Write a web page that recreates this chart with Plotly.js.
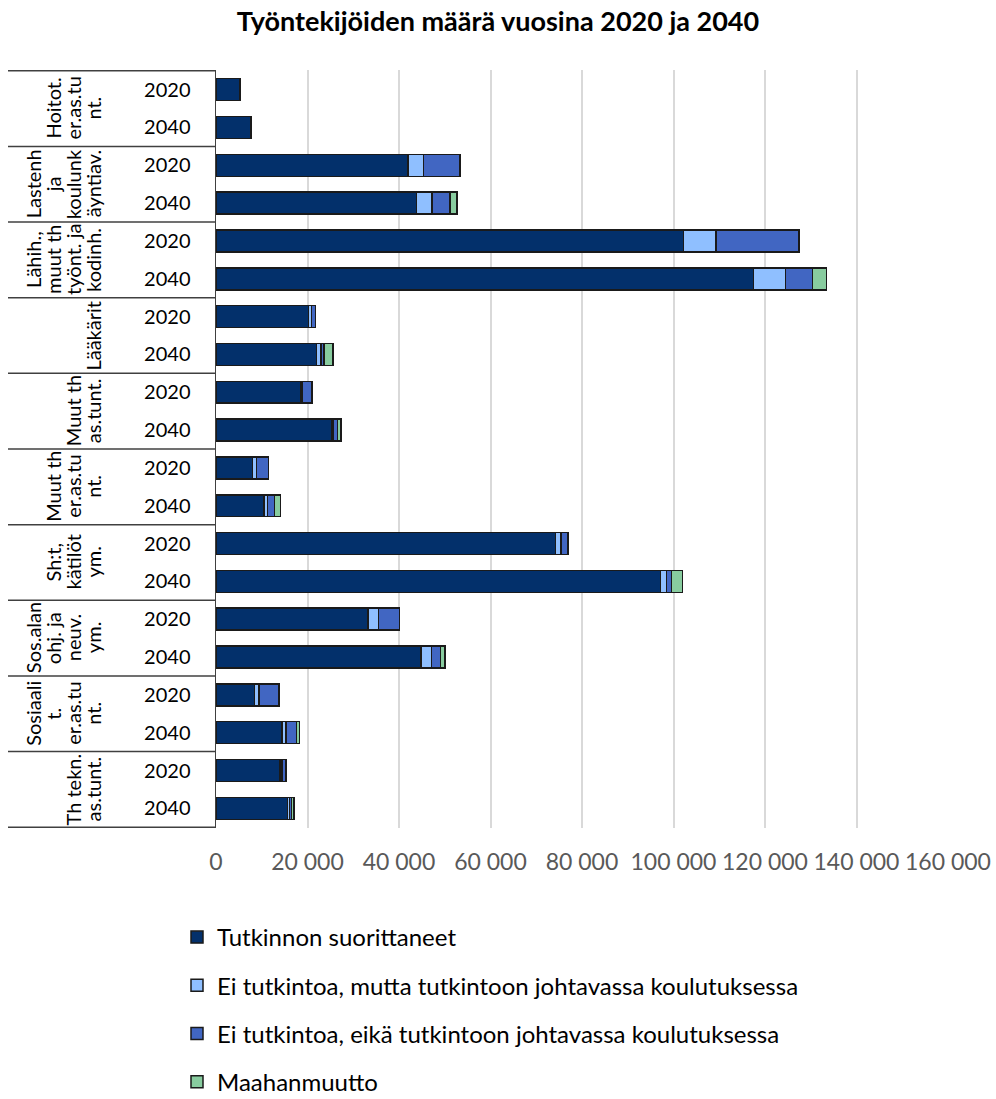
<!DOCTYPE html>
<html>
<head>
<meta charset="utf-8">
<script src="https://cdn.plot.ly/plotly-3.0.1.min.js"></script>
<style>
  html, body { margin: 0; padding: 0; background: #fff; }
  #chart { width: 996px; height: 1099px; }
</style>
</head>
<body>
<div id="chart"></div>
<script>
// Occupational groups, each label split into the lines it is drawn with
const groupLines = [
  ["Hoitot.", "er.as.tu", "nt."],
  ["Lastenh", "ja", "koulunk", "äyntiav."],
  ["Lähih.,", "muut th", "työnt. ja", "kodinh."],
  ["Lääkärit"],
  ["Muut th", "as.tunt."],
  ["Muut th", "er.as.tu", "nt."],
  ["Sh:t,", "kätilöt", "ym."],
  ["Sos.alan", "ohj. ja", "neuv.", "ym."],
  ["Sosiaali", "t.", "er.as.tu", "nt."],
  ["Th tekn.", "as.tunt."]
];
const years = ["2020", "2040"];

// Workers per group and year (2020, 2040 for each group in order)
const tutkinnonSuorittaneet = [5200, 7600, 42000, 43800, 102200, 117500, 20200, 22000, 18500, 25400,
                               8000, 10500, 74200, 97200, 33200, 44800, 8400, 14400, 14000, 15600];
const eiTutkintoaKoulutuksessa = [0, 50, 3400, 3400, 7100, 7000, 700, 900, 300, 300,
                                  900, 800, 1200, 1250, 2300, 2250, 1000, 950, 400, 450];
const eiTutkintoaEikaKoulutuksessa = [0, 150, 7900, 4000, 18100, 5900, 900, 700, 2200, 900,
                                      2600, 1500, 1500, 1100, 4650, 2050, 4400, 2200, 950, 450];
const maahanmuutto = [0, 0, 0, 1450, 0, 3000, 0, 2000, 0, 700,
                      0, 1300, 0, 2400, 0, 950, 0, 650, 0, 600];

const seriesNames = [
  "Tutkinnon suorittaneet",
  "Ei tutkintoa, mutta tutkintoon johtavassa koulutuksessa",
  "Ei tutkintoa, eikä tutkintoon johtavassa koulutuksessa",
  "Maahanmuutto"
];
const seriesValues = [tutkinnonSuorittaneet, eiTutkintoaKoulutuksessa, eiTutkintoaEikaKoulutuksessa, maahanmuutto];
const seriesColors = ["#03306b", "#8fbfff", "#4166c2", "#88cc9f"];

const xTicks = [0, 20000, 40000, 60000, 80000, 100000, 120000, 140000, 160000];

// Category keys: one per group/year row
const cats = [];
const catYears = [];
groupLines.forEach((g, i) => years.forEach(y => { cats.push(i + "|" + y); catYears.push(y); }));

const FONT = "Lato, 'Open Sans', sans-serif";

const traces = seriesNames.map((name, k) => ({
  type: "bar",
  orientation: "h",
  name: name,
  legendgroup: "g" + k,
  x: seriesValues[k],
  y: cats,
  marker: { color: seriesColors[k], line: { color: "#1a1a1a", width: 1.5 } },
  hoverinfo: "x+name"
}));

const W = 996, H = 1099;
const M = { l: 216, r: 48, t: 70, b: 271, autoexpand: false };
const plotW = W - M.l - M.r;
const plotH = H - M.t - M.b;
const px2paperX = px => (px - M.l) / plotW;

// Group labels: vertical text lines stacked right-to-left toward the year column
const annotations = [];
const lineStep = 20, lastLineX = 93;
groupLines.forEach((lines, i) => {
  const n = lines.length;
  lines.forEach((txt, j) => {
    annotations.push({
      text: txt,
      xref: "paper", yref: "y",
      x: px2paperX(lastLineX - (n - 1 - j) * lineStep),
      y: 2 * i + 0.5,
      textangle: -90,
      showarrow: false,
      xanchor: "center", yanchor: "middle",
      font: { family: FONT, size: 20, color: "#000" }
    });
  });
});

// Separator lines between groups in the label column
const shapes = [];
for (let k = 0; k <= groupLines.length; k++) {
  shapes.push({
    type: "line", xref: "paper", yref: "y",
    x0: px2paperX(8), x1: 0,
    y0: 2 * k - 0.5, y1: 2 * k - 0.5,
    line: { color: "#404040", width: 1.5 }
  });
}

const layout = {
  width: W, height: H,
  margin: M,
  paper_bgcolor: "#fff",
  plot_bgcolor: "#fff",
  separators: ", ",
  barmode: "stack",
  bargap: 0.42,
  font: { family: FONT, color: "#000" },
  title: {
    text: "<b>Työntekijöiden määrä vuosina 2020 ja 2040</b>",
    font: { family: FONT, size: 27, color: "#000" },
    xref: "container", x: 0.5, xanchor: "center",
    yref: "container", y: 1 - 22 / H, yanchor: "middle"
  },
  xaxis: {
    range: [0, 160000],
    tickvals: xTicks,
    tickformat: ",.0f",
    showgrid: true, gridcolor: "#d9d9d9", gridwidth: 2,
    zeroline: false, showline: false,
    ticks: "",
    ticklabelstandoff: 18,
    tickfont: { family: FONT, size: 23, color: "#595959" }
  },
  yaxis: {
    type: "category",
    categoryorder: "array",
    categoryarray: cats,
    tickvals: cats,
    ticktext: catYears,
    autorange: "reversed",
    showgrid: false, zeroline: false,
    showline: true, linecolor: "#404040", linewidth: 1.5,
    ticks: "",
    ticklabelstandoff: 20,
    tickfont: { family: FONT, size: 20, color: "#000" }
  },
  legend: {
    orientation: "v",
    traceorder: "grouped",
    tracegroupgap: 14,
    x: -39 / plotW, xanchor: "left",
    y: -(915 - (H - M.b)) / plotH, yanchor: "top",
    font: { family: FONT, size: 24, color: "#000" },
    bgcolor: "rgba(0,0,0,0)"
  },
  annotations: annotations,
  shapes: shapes
};

Plotly.newPlot("chart", traces, layout, { displayModeBar: false, staticPlot: true });
</script>
</body>
</html>
